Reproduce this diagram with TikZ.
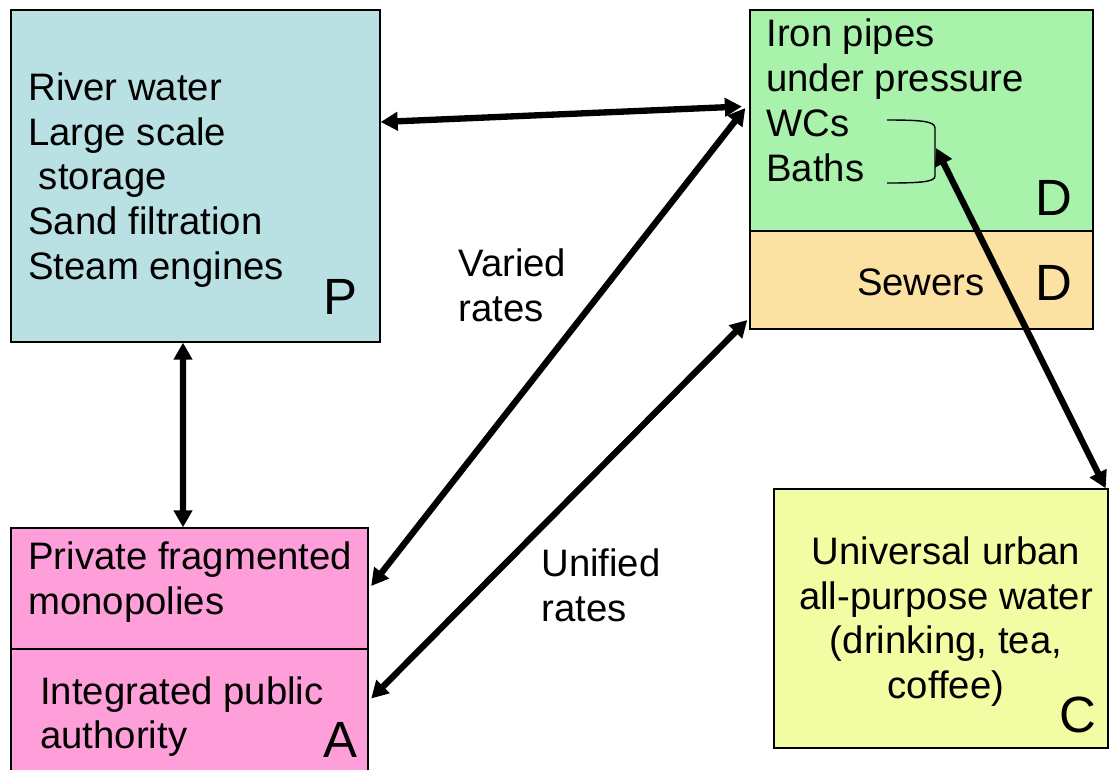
\documentclass[tikz,border=0pt]{standalone}
\usepackage{fontspec}
\setmainfont{Liberation Sans}
\usetikzlibrary{arrows.meta}
\definecolor{pblue}{HTML}{B9E0E3}
\definecolor{dgreen}{HTML}{A9F2AB}
\definecolor{sorange}{HTML}{FBE2A3}
\definecolor{apink}{HTML}{FF9FD9}
\definecolor{cyellow}{HTML}{F2FCA2}
\tikzset{
  box/.style={draw=black, line width=0.8pt, inner sep=0pt},
  txt/.style={inner sep=0pt, font=\fontsize{21.8}{25.5}\selectfont},
  tag/.style={inner sep=0pt, font=\fontsize{29}{30}\selectfont},
  link/.style={line width=3.6pt, {Triangle[length=0.34cm,width=0.36cm]}-{Triangle[length=0.34cm,width=0.36cm]}}
}
\begin{document}
\begin{tikzpicture}[x=0.02cm, y=-0.02cm]
  \useasboundingbox (0,0) rectangle (1109,769);
  % boxes
  \node[box, fill=pblue, minimum width=7.38cm, minimum height=6.64cm] (P) at (195.5,176) {};
  \node[box, fill=dgreen, minimum width=6.86cm, minimum height=4.42cm] (D) at (921.5,120.5) {};
  \node[box, fill=sorange, minimum width=6.86cm, minimum height=1.96cm] (S) at (921.5,280) {};
  \node[box, fill=apink, minimum width=7.14cm, minimum height=2.42cm] (M) at (189.5,588.5) {};
  \node[box, fill=apink, minimum width=7.14cm, minimum height=2.82cm] (A) at (189.5,719.5) {};
  \node[box, fill=cyellow, minimum width=6.68cm, minimum height=5.18cm] (C) at (941,618.5) {};
  % texts
  \node[txt, anchor=west, align=left] (Ptext) at (28,180)
    {River water\\Large scale\\\ storage\\Sand filtration\\Steam engines};
  \node[txt, anchor=west, align=left] (Dtext) at (766,100.5)
    {Iron pipes\\under pressure\\WCs\\Baths};
  \node[txt] (Stext) at (921,282) {Sewers};
  \node[txt, anchor=west, align=left] (Mtext) at (28,582) {Private fragmented\\monopolies};
  \node[txt, anchor=west, align=left] (Atext) at (40,716.5) {Integrated public\\authority};
  \node[txt, align=center] (Ctext) at (946,621.5)
    {Universal urban\\all-purpose water\\(drinking, tea,\\coffee)};
  \node[txt, anchor=west, align=left] (varied) at (458,285.5) {Varied\\rates};
  \node[txt, anchor=west, align=left] (unified) at (541,585) {Unified\\rates};
  % letters
  \node[tag] (Ptag) at (340,297) {P};
  \node[tag] (Dtag) at (1054,198) {D};
  \node[tag] (Stag) at (1054,283) {D};
  \node[tag] (Atag) at (340,740) {A};
  \node[tag] (Ctag) at (1078,715) {C};
  % brace
  \draw[line width=0.8pt] (887,120) .. controls (920,120) and (935,121) .. (935,128)
    -- (935,176) .. controls (935,182) and (920,183) .. (887,183);
  \coordinate (br) at (936,148);
  % connectors
  \draw[link] ([yshift=1.08cm]P.east) -- ([yshift=0.28cm,xshift=-0.15cm]D.west);
  \draw[link] ([xshift=-0.25cm]P.south) -- ([xshift=-0.13cm]M.north);
  \draw[link] ([yshift=0.25cm,xshift=-0.08cm]D.west) -- ([yshift=0.05cm,xshift=0.05cm]M.east);
  \draw[link] ([yshift=-0.8cm,xshift=-0.04cm]S.west) -- ([yshift=0.42cm,xshift=0.05cm]A.east);
  \draw[link] (br) -- ([xshift=-0.06cm]C.north east);
\end{tikzpicture}
\end{document}
